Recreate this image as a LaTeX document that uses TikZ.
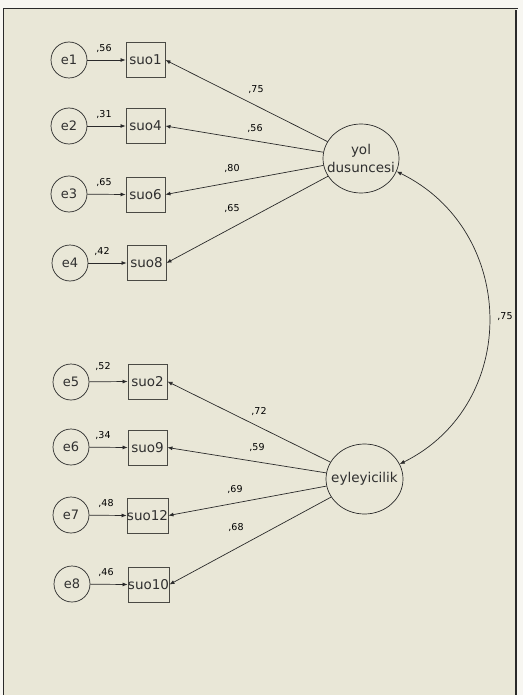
\documentclass[tikz,border=0pt]{standalone}
\usepackage{fontspec}
\setmainfont{DejaVu Sans}
\usetikzlibrary{arrows.meta,shapes.geometric}
\definecolor{bgc}{HTML}{E9E7D7}
\definecolor{outerc}{HTML}{F7F6F1}
\definecolor{lnc}{HTML}{2A2A2A}
\definecolor{boxc}{HTML}{4A4A44}
\definecolor{txc}{HTML}{303030}
\begin{document}
\begin{tikzpicture}[x=1pt,y=-1pt,
  err/.style={circle,draw=lnc,line width=0.7pt,minimum size=36pt,inner sep=0pt,text=txc,font=\fontsize{13}{13}\selectfont},
  obs/.style={rectangle,draw=boxc,line width=0.9pt,minimum width=39pt,minimum height=35pt,inner sep=0pt,text=txc,font=\fontsize{13.5}{13.5}\selectfont},
  lat/.style={ellipse,draw=lnc,line width=0.7pt,minimum width=77pt,minimum height=70pt,inner sep=0pt},
  lattext/.style={inner sep=0pt,align=center,text=txc,font=\fontsize{13.5}{18}\selectfont},
  reg/.style={draw=lnc,line width=0.7pt,-{Latex[length=5pt,width=4pt]}},
  cov/.style={draw=lnc,line width=0.7pt,{Latex[length=5pt,width=4pt]}-{Latex[length=5pt,width=4pt]}},
  coef/.style={inner sep=0pt,text=black,font=\fontsize{9.5}{10}\selectfont}
]
\useasboundingbox (0,0) rectangle (523,695);
\fill[outerc] (0,0) rectangle (523,695);
\fill[bgc] (3,8) rectangle (516,695);
\draw[lnc,line width=1.3pt] (3.6,695) -- (3.6,8.6) -- (518,8.6);
\draw[lnc,line width=1.3pt] (516,10) -- (516,695);

% error terms
\node[err] (e1) at (69,60) {e1};
\node[err] (e2) at (69,126) {e2};
\node[err] (e3) at (69,194) {e3};
\node[err] (e4) at (70,263) {e4};
\node[err] (e5) at (71,382) {e5};
\node[err] (e6) at (71,447) {e6};
\node[err] (e7) at (71,515) {e7};
\node[err] (e8) at (72,584) {e8};

% observed
\node[obs] (s1) at (145.5,60) {suo1};
\node[obs] (s4) at (145.5,126) {suo4};
\node[obs] (s6) at (145.5,194.5) {suo6};
\node[obs] (s8) at (146.5,263) {suo8};
\node[obs] (s2) at (147.5,381.5) {suo2};
\node[obs] (s9) at (147.5,447.5) {suo9};
\node[obs] (s12) at (147.5,515.5) {suo12};
\node[obs] (s10) at (148.5,584.5) {suo10};

% latent
\node[lat,minimum width=76pt,minimum height=69pt] (yol) at (361,158.5) {};
\node[lattext] (yolt) at (yol.center) {yol\\dusuncesi};
\node[lat] (eyl) at (364.5,479) {};
\node[lattext] (eylt) at (eyl.center) {eyleyicilik};

% error paths
\draw[reg] (e1) -- (s1.west);
\draw[reg] (e2) -- (s4.west);
\draw[reg] (e3) -- (s6.west);
\draw[reg] (e4) -- (s8.west);
\draw[reg] (e5) -- (s2.west);
\draw[reg] (e6) -- (s9.west);
\draw[reg] (e7) -- (s12.west);
\draw[reg] (e8) -- (s10.west);

% loadings
\draw[reg] (yol) -- (s1.east);
\draw[reg] (yol) -- (s4.east);
\draw[reg] (yol) -- (s6.east);
\draw[reg] (yol) -- (s8.east);
\draw[reg] (eyl) -- (s2.east);
\draw[reg] (eyl) -- (s9.east);
\draw[reg] (eyl) -- (s12.east);
\draw[reg] (eyl) -- (s10.east);

% covariance
\draw[cov] (yol.-20) .. controls +(121,59) and +(121,-60) .. (eyl.23);

% coefficients
\node[coef] (r1) at (104,49) {,56};
\node[coef] (r2) at (104,115) {,31};
\node[coef] (r3) at (104,183) {,65};
\node[coef] (r4) at (102,252) {,42};
\node[coef] (r5) at (103,367) {,52};
\node[coef] (r6) at (103,436) {,34};
\node[coef] (r7) at (106,504) {,48};
\node[coef] (r8) at (106,573) {,46};

\node[coef] (l1) at (256,90) {,75};
\node[coef] (l4) at (255,129) {,56};
\node[coef] (l6) at (232,169) {,80};
\node[coef] (l8) at (232,209) {,65};
\node[coef] (l2) at (259,412) {,72};
\node[coef] (l9) at (257,448) {,59};
\node[coef] (l12) at (235,490) {,69};
\node[coef] (l10) at (236,528) {,68};

\node[coef] (c1) at (505,317) {,75};
\end{tikzpicture}
\end{document}
